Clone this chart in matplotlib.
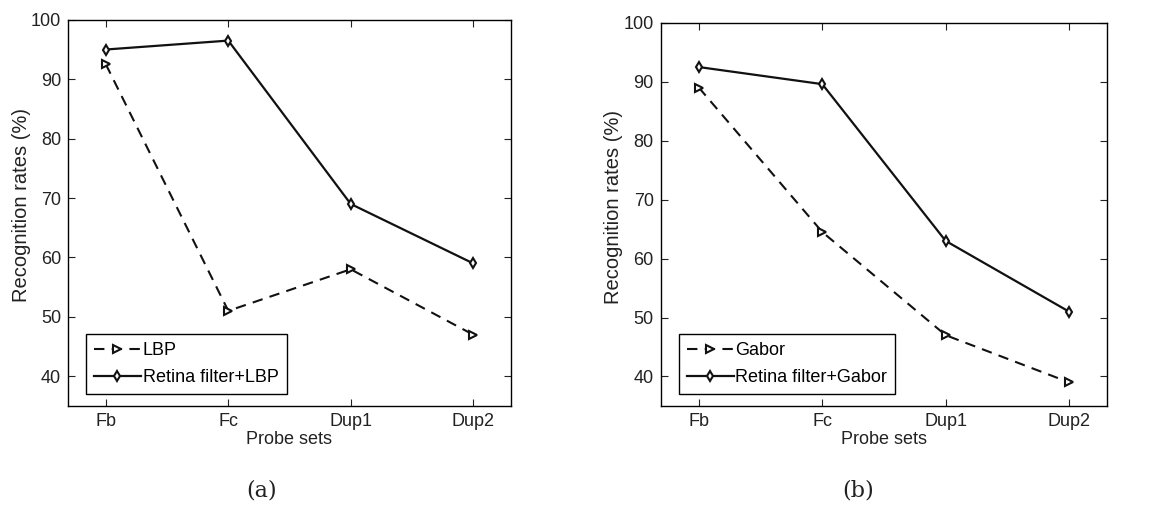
import matplotlib
matplotlib.use("Agg")
from matplotlib import pyplot as plt

plt.rcParams['font.family'] = ['Liberation Sans', 'DejaVu Sans']

probe_sets = ['Fb', 'Fc', 'Dup1', 'Dup2']
lbp = [92.5, 51, 58, 47]
retina_lbp = [95, 96.5, 69, 59]
gabor = [89, 64.5, 47, 39]
retina_gabor = [92.5, 89.6, 63, 51]

fig = plt.figure(figsize=(11.51, 5.08), dpi=100)
ax1 = fig.add_axes([0.059, 0.201, 0.385, 0.760])
ax2 = fig.add_axes([0.574, 0.201, 0.388, 0.754])

panels = [
    (ax1, lbp, retina_lbp, 'LBP', 'Retina filter+LBP', '(a)', 262),
    (ax2, gabor, retina_gabor, 'Gabor', 'Retina filter+Gabor', '(b)', 858),
]

fs = 13
x = range(1, len(probe_sets) + 1)
for ax, base, retina, name, rname, tag, tx in panels:
    ax.plot(x, base, color='#111111', ls=(0, (5, 3.5)), marker='>', ms=6, mfc='white',
            mec='#111111', mew=1.5, lw=1.5, label=name)
    ax.plot(x, retina, color='#111111', ls='-', marker='d', ms=5.5, mfc='white',
            mec='#111111', mew=1.5, lw=1.6, label=rname)
    ax.set_xlim(0.69, 4.31)
    ax.set_ylim(35, 100)
    ax.set_yticks([40, 50, 60, 70, 80, 90, 100])
    ax.set_xticks(list(x))
    ax.set_xticklabels(probe_sets)
    ax.tick_params(direction='in', top=True, right=True, labelsize=fs, length=5,
                   colors='#222222', pad=5)
    ax.set_xlabel('Probe sets', fontsize=fs, labelpad=1, color='#222222')
    ax.set_ylabel('Recognition rates (%)', fontsize=14.5, color='#222222')
    ax.yaxis.set_label_coords(-0.084, 0.52)
    for s in ax.spines.values():
        s.set_linewidth(1.0)
    leg = ax.legend(loc='lower left', fontsize=fs, fancybox=False, framealpha=1,
                    edgecolor='black', bbox_to_anchor=(0.04, 0.03), borderaxespad=0,
                    handlelength=2.6, handletextpad=0.1, borderpad=0.45,
                    labelspacing=0.55)
    leg.get_frame().set_linewidth(1.0)
    fig.text(tx / 1151, 1 - 490 / 508, tag, ha='center', va='center',
             fontsize=16, family='DejaVu Serif', color='#222222')

fig.savefig('out.png', dpi=100)
